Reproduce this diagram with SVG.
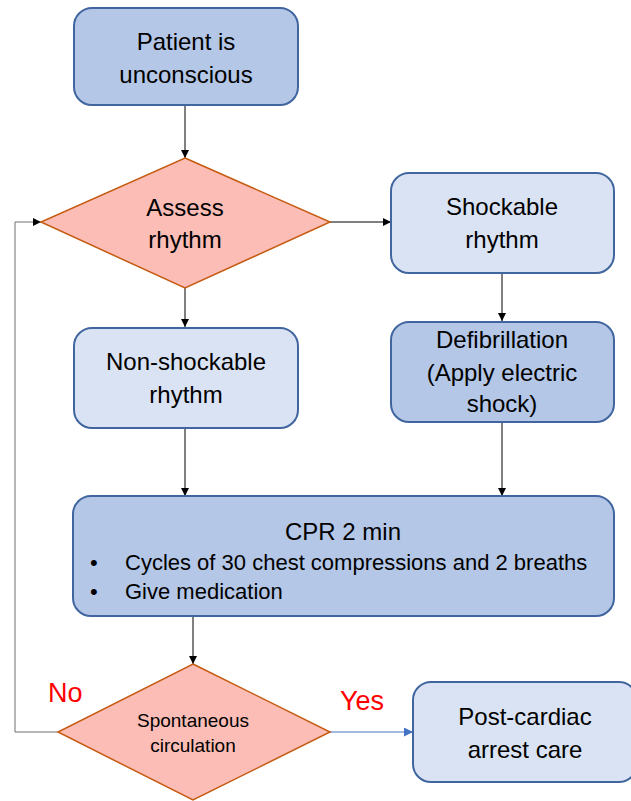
<svg xmlns="http://www.w3.org/2000/svg" width="631" height="801" viewBox="0 0 631 801">
<defs>
<marker id="ah" viewBox="0 0 10 10" refX="10" refY="5" markerWidth="8" markerHeight="8" markerUnits="userSpaceOnUse" orient="auto"><path d="M0,0 L10,5 L0,10 z" fill="#000"/></marker>
<marker id="ahb" viewBox="0 0 10 10" refX="10" refY="5" markerWidth="9" markerHeight="9" markerUnits="userSpaceOnUse" orient="auto"><path d="M0,0 L10,5 L0,10 z" fill="#4472c4"/></marker>
<style>
.box{stroke:#41669f;stroke-width:2}
.dark{fill:#b4c7e7}
.light{fill:#dae3f3}
.dia{fill:#fbbdb5;stroke:#c55a11;stroke-width:1.5}
text{font-family:"Liberation Sans",Arial,sans-serif;fill:#000}
.t{font-size:24px;text-anchor:middle}
.b{font-size:22px}
.s{font-size:19px;text-anchor:middle}
.r{font-size:27px;fill:#ff0000}
.c{stroke:#000;stroke-width:1;fill:none}
</style>
</defs>
<g id="connectors">
<line class="c" x1="185" y1="105" x2="185" y2="158" marker-end="url(#ah)"/>
<line class="c" x1="330" y1="222" x2="391" y2="222" marker-end="url(#ah)"/>
<line class="c" x1="185" y1="288" x2="185" y2="327" marker-end="url(#ah)"/>
<line class="c" x1="502" y1="273" x2="502" y2="321" marker-end="url(#ah)"/>
<line class="c" x1="185" y1="428" x2="185" y2="496" marker-end="url(#ah)"/>
<line class="c" x1="502" y1="422" x2="502" y2="496" marker-end="url(#ah)"/>
<line class="c" x1="193" y1="616" x2="193" y2="664" marker-end="url(#ah)"/>
<polyline class="c" points="58,732 15,732 15,222 41,222" style="stroke:#707070" marker-end="url(#ah)"/>
<line x1="330" y1="732" x2="413" y2="732" stroke="#4472c4" stroke-width="1" marker-end="url(#ahb)"/>
<text class="r" x="48" y="702">No</text>
<text class="r" x="340" y="710">Yes</text>
</g>
<g id="patient">
<rect class="box dark" x="74" y="8" width="224" height="97" rx="18"/>
<text class="t" x="186" y="50">Patient is</text>
<text class="t" x="186" y="83">unconscious</text>
</g>
<g id="assess">
<polygon class="dia" points="185,158 330,222 185,288 41,222"/>
<text class="t" x="185" y="216">Assess</text>
<text class="t" x="185" y="248">rhythm</text>
</g>
<g id="shockable">
<rect class="box light" x="391" y="173" width="223" height="100" rx="18"/>
<text class="t" x="502" y="215">Shockable</text>
<text class="t" x="502" y="248">rhythm</text>
</g>
<g id="defib">
<rect class="box dark" x="391" y="322" width="223" height="100" rx="18"/>
<text class="t" x="502" y="348">Defibrillation</text>
<text class="t" x="502" y="381">(Apply electric</text>
<text class="t" x="502" y="412">shock)</text>
</g>
<g id="nonshock">
<rect class="box light" x="74" y="328" width="224" height="100" rx="18"/>
<text class="t" x="186" y="370">Non-shockable</text>
<text class="t" x="186" y="403">rhythm</text>
</g>
<g id="cpr">
<rect class="box dark" x="73" y="496" width="541" height="120" rx="18"/>
<text class="t" x="343" y="540">CPR 2 min</text>
<text class="b" x="90" y="570">•</text>
<text class="b" x="125" y="570">Cycles of 30 chest compressions and 2 breaths</text>
<text class="b" x="90" y="599">•</text>
<text class="b" x="125" y="599">Give medication</text>
</g>
<g id="spont">
<polygon class="dia" points="193,664 330,732 193,800 58,732"/>
<text class="s" x="193" y="727">Spontaneous</text>
<text class="s" x="193" y="752">circulation</text>
</g>
<g id="post">
<rect class="box light" x="413" y="682" width="224" height="100" rx="18"/>
<text class="t" x="525" y="725">Post-cardiac</text>
<text class="t" x="525" y="758">arrest care</text>
</g>
</svg>
